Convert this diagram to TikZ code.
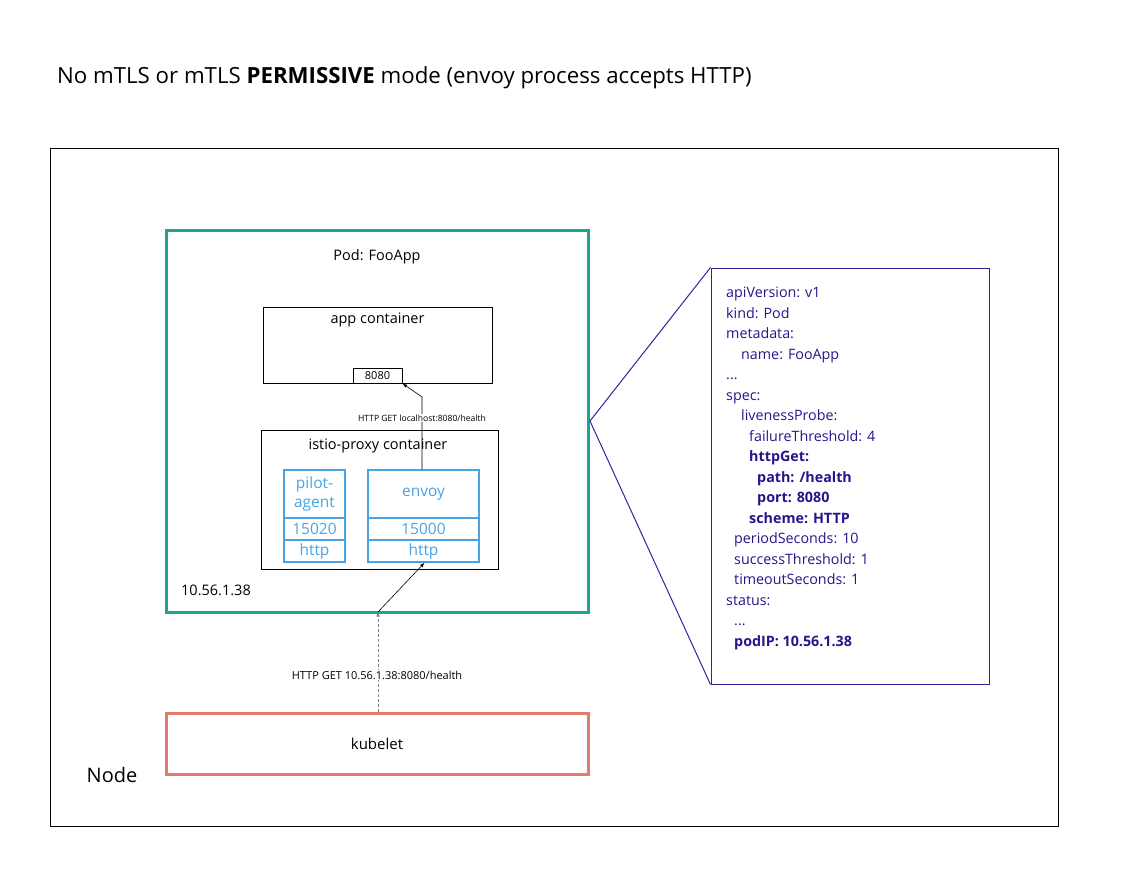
\documentclass[tikz,border=0pt]{standalone}
\usepackage{fontspec}
\setmainfont{Open Sans}
\usetikzlibrary{positioning}
\definecolor{podteal}{RGB}{28,168,142}
\definecolor{kubered}{RGB}{226,122,110}
\definecolor{proxyblue}{RGB}{70,164,230}
\definecolor{yamlnavy}{RGB}{44,38,160}
\definecolor{yamltext}{RGB}{40,20,140}
\newcommand{\fs}[1]{\fontsize{#1pt}{\dimexpr#1pt*6/5\relax}\selectfont}

\begin{document}
\begin{tikzpicture}[x=1pt,y=-1pt,
  every node/.style={inner sep=0pt},
  cbox/.style={draw,line width=1pt},
  bluebox/.style={draw=proxyblue,text=proxyblue,line width=1.5pt,minimum height=22pt,font=\fs{15.5},align=center},
  probe/.style={-latex,line width=0.6pt}]

\useasboundingbox (0,0) rectangle (1125,888);

\node[anchor=west,font=\fs{22.25}] (title) at (57,78) {No mTLS or mTLS \textbf{PERMISSIVE} mode (envoy process accepts HTTP)};

% node and pod
\node[cbox,line width=0.8pt,minimum width=1008pt,minimum height=678pt] (node) at (554,487) {};
\node[font=\fs{20}] (nodelabel) at (112,775) {Node};
\node[draw=podteal,line width=3pt,minimum width=422pt,minimum height=382pt] (pod) at (377,421) {};
\node[font=\fs{14.5}] (podname) at (377,257) {Pod: FooApp};
\node[font=\fs{14.5}] (podip) at (216,590) {10.56.1.38};

% app container
\node[cbox,minimum width=229pt,minimum height=76pt] (app) at (377.5,345) {};
\node[font=\fs{14.5}] (applabel) at (377.5,320) {app container};
\node[cbox,minimum width=49pt,minimum height=15pt,font=\fs{11}] (port) at (377.5,375.5) {8080};

% istio-proxy container
\node[cbox,minimum width=237pt,minimum height=139pt] (proxy) at (379.5,499.5) {};
\node[font=\fs{14.5}] (proxylabel) at (378,446) {istio-proxy container};

\node[bluebox,minimum width=61pt,minimum height=48pt] (pilot) at (314.5,494) {pilot-\\agent};
\node[bluebox,minimum width=61pt] (pilotport) at (314.5,529) {15020};
\node[bluebox,minimum width=61pt] (pilothttp) at (314.5,551) {http};

\node[bluebox,minimum width=111pt,minimum height=48pt] (envoy) at (423.5,494) {envoy};
\node[bluebox,minimum width=111pt] (envoyport) at (423.5,529) {15000};
\node[bluebox,minimum width=111pt] (envoyhttp) at (423.5,551) {http};

% kubelet
\node[draw=kubered,line width=3pt,minimum width=422pt,minimum height=61pt,font=\fs{15}] (kubelet) at (377,743.5) {kubelet};

% probes
\coordinate (podentry) at (378,612);
\coordinate (bend) at (422,397);
\draw[probe,gray,densely dashed] (kubelet.north -| podentry) -- (podentry);
\draw[probe] (podentry) -- ([xshift=1pt]envoyhttp.south);
\draw[probe] ([xshift=-1.5pt]envoy.north) -- (bend) -- (port.south east);
\node[fill=white,inner sep=1pt,font=\fs{8.6}] (locallabel) at (422,418) {HTTP GET localhost:8080/health};
\node[fill=white,inner sep=1pt,font=\fs{11}] (kubelabel) at (377,675) {HTTP GET 10.56.1.38:8080/health};

% pod spec
\node[draw=yamlnavy,line width=1pt,minimum width=278pt,minimum height=416pt] (yaml) at (850,476) {};
\coordinate (callout) at (590,421);
\draw[yamlnavy,line width=1pt] (yaml.north west) -- (callout) -- (yaml.south west);
\node[anchor=north west,align=left,text=yamltext,font=\fontsize{14.3}{20.5}\selectfont] (spec) at (726,287) {%
apiVersion: v1\\
kind: Pod\\
metadata:\\
\hspace*{15pt}name: FooApp\\
...\\
spec:\\
\hspace*{15pt}livenessProbe:\\
\hspace*{23pt}failureThreshold: 4\\
\hspace*{23pt}\textbf{httpGet:}\\
\hspace*{31pt}\textbf{path: /health}\\
\hspace*{31pt}\textbf{port: 8080}\\
\hspace*{23pt}\textbf{scheme: HTTP}\\
\hspace*{8pt}periodSeconds: 10\\
\hspace*{8pt}successThreshold: 1\\
\hspace*{8pt}timeoutSeconds: 1\\
status:\\
\hspace*{8pt}...\\
\hspace*{8pt}\textbf{podIP: 10.56.1.38}};

\end{tikzpicture}
\end{document}
